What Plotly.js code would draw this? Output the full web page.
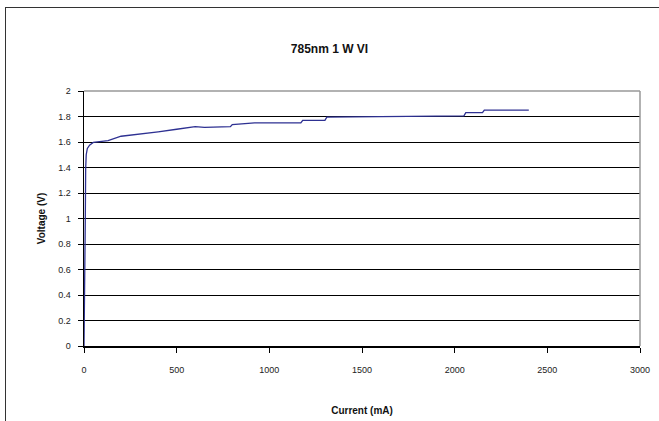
<!DOCTYPE html>
<html>
<head>
<meta charset="utf-8">
<script src="https://cdn.plot.ly/plotly-3.0.1.min.js"></script>
<style>
html,body{margin:0;padding:0;background:#fff;overflow:hidden;}
#wrap{position:relative;width:659px;height:421px;overflow:hidden;}
#frame{position:absolute;left:5px;top:7px;width:800px;height:800px;border:1.5px solid #333;box-sizing:border-box;}
#chart{position:absolute;left:0;top:0;width:659px;height:421px;}
</style>
</head>
<body>
<div id="wrap">
<div id="frame"></div>
<div id="chart"></div>
</div>
<script>
const currentMA = [0, 3, 5, 7, 9, 12, 18, 30, 50, 100, 130, 200, 300, 400, 500, 570, 600, 650, 790, 800, 920, 1170, 1180, 1300, 1310, 1450, 1700, 1850, 2050, 2060, 2150, 2160, 2400];
const voltageV = [0, 0.3, 0.57, 1.0, 1.39, 1.5, 1.55, 1.575, 1.597, 1.605, 1.61, 1.645, 1.66, 1.68, 1.70, 1.715, 1.72, 1.715, 1.72, 1.737, 1.75, 1.75, 1.77, 1.77, 1.795, 1.797, 1.80, 1.803, 1.805, 1.83, 1.83, 1.85, 1.85];
const xTicks = [0, 500, 1000, 1500, 2000, 2500, 3000];
const yTicks = [0, 0.2, 0.4, 0.6, 0.8, 1, 1.2, 1.4, 1.6, 1.8, 2];

const font = 'Liberation Sans, Arial, sans-serif';

Plotly.newPlot('chart', [{
  x: currentMA,
  y: voltageV,
  type: 'scatter',
  mode: 'lines',
  line: {color: '#2e3192', width: 1.3},
  hoverinfo: 'skip'
}], {
  width: 659,
  height: 421,
  margin: {l: 84, r: 19, t: 91, b: 75},
  paper_bgcolor: 'rgba(0,0,0,0)',
  plot_bgcolor: 'rgba(0,0,0,0)',
  showlegend: false,
  title: {
    text: '<b>785nm 1 W VI</b>',
    font: {family: font, size: 12, color: '#111'},
    x: 0.5, xanchor: 'center',
    y: 0.885, yanchor: 'middle'
  },
  xaxis: {
    range: [0, 3000],
    tickvals: xTicks,
    ticktext: xTicks.map(String),
    ticks: 'outside', ticklen: 5, tickcolor: '#000', tickwidth: 1,
    ticklabelstandoff: 10,
    showline: true, linecolor: '#000', linewidth: 1.5,
    showgrid: false, zeroline: false,
    tickfont: {family: font, size: 9, color: '#222'},
    title: {text: '<b>Current (mA)</b>', font: {family: font, size: 10, color: '#111'}, standoff: 32}
  },
  yaxis: {
    range: [0, 2],
    tickvals: yTicks,
    ticktext: yTicks.map(String),
    ticks: 'outside', ticklen: 5, tickcolor: '#000', tickwidth: 1,
    ticklabelstandoff: 5,
    showline: true, linecolor: '#000', linewidth: 1.5,
    showgrid: true, gridcolor: '#000', gridwidth: 1,
    zeroline: false,
    tickfont: {family: font, size: 9, color: '#222'},
    title: {text: '<b>Voltage (V)</b>', font: {family: font, size: 10, color: '#111'}, standoff: 10}
  },
  shapes: [
    {type: 'line', xref: 'paper', yref: 'paper', x0: 0, x1: 1, y0: 1, y1: 1, line: {color: '#999', width: 1.5}, layer: 'above'},
    {type: 'line', xref: 'paper', yref: 'paper', x0: 1, x1: 1, y0: 0, y1: 1, line: {color: '#999', width: 1.5}, layer: 'above'}
  ]
}, {staticPlot: true, displayModeBar: false});
</script>
</body>
</html>
